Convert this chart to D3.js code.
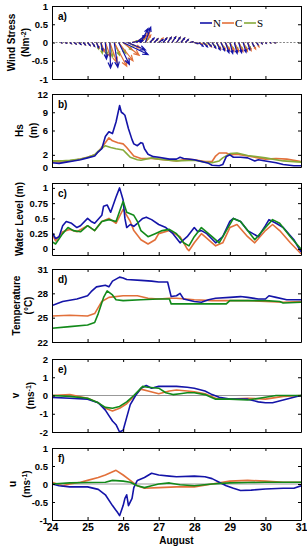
<!DOCTYPE html>
<html>
<head>
<meta charset="utf-8">
<script src="https://cdn.jsdelivr.net/npm/d3@7"></script>
<style>
  body { margin: 0; background: #fff; }
  text { font-family: "Liberation Sans", Arial, sans-serif; }
</style>
</head>
<body>
<div id="chart"></div>
<script>
// ---- data (days of August) ----
const stations = ["N", "C", "S"];
const days = [24, 25, 26, 27, 28, 29, 30, 31];

// wind stress sticks, 3-hourly
const windT = [24.25,24.375,24.5,24.625,24.75,24.875,25,25.125,25.25,25.375,25.5,25.625,25.75,25.875,26,26.125,26.25,26.375,26.5,26.625,26.75,26.875,27,27.125,27.25,27.375,27.5,27.625,27.75,27.875,28,28.125,28.25,28.375,28.5,28.625,28.75,28.875,29,29.125,29.25,29.375,29.5,29.625,29.75,29.875,30,30.125,30.25,30.375,30.5];
const windU_N = [0.02,0.03,0.04,0.05,0.06,0.06,0.07,0.07,0.06,0.05,0.03,0.02,0.1,0.3,0.7,0.5,0.3,0.25,0.2,0.15,0.12,0.1,0.12,0.1,0.1,0.1,0.1,0.1,0.08,0.08,0.1,0.12,0.12,0.1,0.1,0.1,0.1,0.1,0.08,0.08,0.08,0.08,0.06,0.05,0.04,0.03,0.02,0.02,0.02,0.01,0.01];
const windV_N = [-0.01,-0.02,-0.03,-0.04,-0.05,-0.06,-0.08,-0.1,-0.14,-0.22,-0.45,-0.7,-0.68,-0.6,-0.33,-0.2,0.05,0.2,0.38,0.42,0.12,0.1,0.08,0.12,0.14,0.15,0.14,0.12,0.08,0.02,-0.03,-0.1,-0.12,-0.1,-0.15,-0.2,-0.22,-0.28,-0.3,-0.3,-0.28,-0.27,-0.2,-0.1,-0.06,-0.03,-0.02,-0.01,-0.01,0,0];
const windU_C = [0.02,0.03,0.04,0.05,0.06,0.06,0.07,0.07,0.08,0.1,0.15,0.2,0.35,0.4,0.45,0.35,0.25,0.3,0.25,0.15,0.1,0.1,0.12,0.1,0.1,0.1,0.1,0.1,0.08,0.08,0.1,0.1,0.1,0.1,0.1,0.12,0.12,0.12,0.12,0.12,0.12,0.12,0.1,0.1,0.07,0.03,0.02,0.02,0.02,0.01,0.01];
const windV_C = [-0.01,-0.02,-0.03,-0.04,-0.05,-0.06,-0.08,-0.1,-0.15,-0.25,-0.4,-0.55,-0.65,-0.5,-0.35,-0.15,0.05,0.2,0.28,0.2,0.1,0.1,0.12,0.12,0.14,0.15,0.14,0.12,0.08,0.02,-0.03,-0.05,-0.08,-0.12,-0.15,-0.18,-0.2,-0.22,-0.24,-0.25,-0.25,-0.24,-0.22,-0.18,-0.12,-0.03,-0.02,-0.01,-0.01,0,0];
const windU_S = [0.02,0.03,0.04,0.05,0.06,0.06,0.07,0.07,0.06,0.04,0.05,0.08,0.15,0.2,0.25,0.2,0.15,0.15,0.12,0.1,0.1,0.1,0.1,0.1,0.1,0.1,0.1,0.1,0.08,0.08,0.1,0.1,0.1,0.1,0.1,0.1,0.1,0.1,0.1,0.1,0.1,0.1,0.08,0.06,0.04,0.03,0.02,0.02,0.02,0.01,0.01];
const windV_S = [-0.01,-0.02,-0.03,-0.04,-0.05,-0.06,-0.08,-0.1,-0.18,-0.3,-0.35,-0.4,-0.35,-0.3,-0.2,-0.1,0.05,0.1,0.12,0.12,0.1,0.1,0.1,0.12,0.14,0.15,0.14,0.12,0.08,0.02,-0.03,-0.04,-0.06,-0.1,-0.12,-0.15,-0.16,-0.17,-0.18,-0.18,-0.18,-0.17,-0.15,-0.12,-0.06,-0.03,-0.02,-0.01,-0.01,0,0];

// significant wave height [day, m]
const hs_N = [[24,0.7],[24.2,0.6],[24.4,0.8],[24.6,1.0],[24.8,1.2],[25,1.5],[25.2,1.8],[25.3,2.5],[25.4,3.0],[25.5,5.0],[25.6,5.8],[25.7,5.5],[25.8,7.4],[25.9,10.1],[25.95,9.0],[26,8.8],[26.05,8.5],[26.15,6.3],[26.25,4.5],[26.3,3.8],[26.4,3.5],[26.5,4.0],[26.55,3.9],[26.6,3.0],[26.7,2.1],[26.85,1.7],[27,1.6],[27.3,1.3],[27.5,1.3],[27.6,1.6],[27.7,1.4],[28,1.2],[28.2,0.9],[28.4,0.6],[28.5,0.3],[28.7,0.2],[28.8,0.4],[28.9,1.7],[29,2.0],[29.1,1.6],[29.3,1.6],[29.5,1.5],[29.7,1.0],[29.8,1.2],[30,1.0],[30.3,0.7],[30.5,0.4],[30.8,0.2],[31,0.2]];
const hs_C = [[24,0.9],[24.3,0.8],[24.5,1.0],[24.8,1.3],[25,1.6],[25.2,2.0],[25.3,2.5],[25.5,4.0],[25.6,4.8],[25.7,4.3],[25.85,4.0],[26,3.8],[26.1,3.2],[26.2,2.5],[26.3,1.8],[26.5,1.4],[26.8,1.4],[27,1.3],[27.5,1.0],[27.8,1.3],[28,1.2],[28.3,0.9],[28.5,0.9],[28.6,1.8],[28.7,2.3],[28.9,2.3],[29,2.0],[29.2,2.1],[29.5,1.8],[29.8,1.5],[30,1.3],[30.3,1.4],[30.6,1.3],[31,0.9]];
const hs_S = [[24,1.0],[24.3,1.0],[24.5,1.1],[24.8,1.3],[25,1.6],[25.2,2.0],[25.3,2.6],[25.5,3.5],[25.65,3.2],[25.8,3.0],[26,2.8],[26.1,2.2],[26.2,1.6],[26.4,1.2],[26.5,1.1],[26.8,1.5],[27,1.3],[27.5,1.0],[28,1.1],[28.3,0.8],[28.5,0.7],[28.7,1.0],[28.8,1.5],[29,2.2],[29.2,2.3],[29.5,1.9],[30,1.5],[30.5,1.0],[31,0.8]];

// water level [day, m]
const wl_N = [[24,0.27],[24.1,0.17],[24.2,0.2],[24.3,0.38],[24.4,0.45],[24.55,0.42],[24.7,0.35],[24.8,0.38],[25,0.5],[25.1,0.45],[25.2,0.42],[25.4,0.55],[25.45,0.7],[25.55,0.72],[25.65,0.6],[25.8,0.85],[25.9,1.0],[26,0.8],[26.05,0.5],[26.1,0.35],[26.2,0.4],[26.3,0.37],[26.4,0.42],[26.55,0.5],[26.65,0.52],[26.8,0.48],[27,0.4],[27.2,0.35],[27.4,0.25],[27.6,0.1],[27.8,0.2],[28,0.35],[28.1,0.28],[28.2,0.3],[28.35,0.25],[28.6,0.1],[28.8,0.2],[29,0.45],[29.1,0.5],[29.3,0.45],[29.5,0.3],[29.8,0.2],[30,0.38],[30.1,0.48],[30.3,0.42],[30.5,0.35],[30.8,0.15],[31,-0.05]];
const wl_C = [[24,0.25],[24.1,0.13],[24.3,0.28],[24.5,0.32],[24.7,0.28],[25,0.38],[25.2,0.3],[25.4,0.45],[25.6,0.5],[25.8,0.42],[26,0.65],[26.1,0.55],[26.2,0.45],[26.3,0.3],[26.5,0.15],[26.7,0.08],[26.9,0.15],[27,0.25],[27.3,0.3],[27.6,0.2],[27.8,0.0],[27.85,-0.03],[28,0.1],[28.2,0.25],[28.3,0.2],[28.5,0.1],[28.6,0.05],[28.8,0.1],[29,0.35],[29.2,0.4],[29.5,0.2],[29.7,0.1],[30,0.3],[30.2,0.4],[30.4,0.3],[30.7,0.1],[31,-0.08]];
const wl_S = [[24,0.12],[24.1,0.08],[24.3,0.25],[24.45,0.35],[24.6,0.3],[24.8,0.28],[25,0.38],[25.2,0.3],[25.4,0.45],[25.6,0.48],[25.8,0.45],[26,0.78],[26.1,0.6],[26.3,0.55],[26.4,0.45],[26.5,0.3],[26.7,0.2],[26.9,0.25],[27.1,0.3],[27.3,0.32],[27.5,0.25],[27.7,0.1],[27.85,0.05],[28,0.2],[28.2,0.35],[28.3,0.3],[28.5,0.2],[28.7,0.1],[28.9,0.3],[29.1,0.5],[29.3,0.45],[29.5,0.3],[29.7,0.15],[30,0.35],[30.2,0.48],[30.4,0.42],[30.7,0.2],[31,0.0]];

// temperature [day, degC]
const temp_N = [[24,26.5],[24.3,27.0],[24.7,27.3],[25,27.7],[25.1,28.2],[25.25,28.8],[25.5,29.0],[25.6,28.8],[25.7,29.5],[25.9,30.0],[26,29.9],[26.1,29.7],[26.5,29.6],[26.8,29.5],[27,29.4],[27.25,29.4],[27.35,27.6],[27.5,27.7],[27.6,28.0],[27.7,27.3],[28,27.0],[28.2,26.9],[28.4,27.2],[28.6,27.4],[29,27.5],[29.3,27.6],[29.5,27.5],[29.8,27.3],[30,27.3],[30.1,27.7],[30.3,27.5],[30.6,27.2],[31,27.2]];
const temp_C = [[24,25.2],[24.5,25.3],[25,25.2],[25.2,25.5],[25.4,27.0],[25.6,27.5],[26,27.7],[26.4,27.7],[26.7,27.4],[27,27.3],[27.3,27.4],[27.5,27.4],[28,27.2],[28.5,27.1],[29,27.1],[29.5,27.1],[30,27.0],[30.5,26.9],[31,27.0]];
const temp_S = [[24,23.7],[24.5,23.9],[25,24.1],[25.2,24.4],[25.3,25.5],[25.45,27.5],[25.55,28.3],[25.7,27.8],[25.8,27.2],[26,27.1],[26.5,27.2],[27,27.3],[27.3,27.3],[27.35,26.7],[28,26.7],[28.9,26.7],[29,27.1],[29.5,27.1],[30,27.1],[30.4,27.0],[30.5,26.8],[31,26.9]];

// north-south current v [day, m/s]
const v_N = [[24,-0.1],[24.5,-0.15],[25,-0.2],[25.3,-0.4],[25.5,-0.8],[25.6,-1.1],[25.7,-1.4],[25.8,-1.6],[25.9,-2.0],[26,-1.9],[26.1,-1.2],[26.2,-0.5],[26.35,0.0],[26.5,0.4],[26.65,0.55],[26.8,0.4],[27,0.5],[27.3,0.5],[27.5,0.5],[27.8,0.45],[28,0.4],[28.3,0.25],[28.5,0.05],[28.7,-0.1],[29,-0.2],[29.5,-0.2],[29.8,-0.35],[30,-0.4],[30.2,-0.4],[30.5,-0.25],[30.8,-0.1],[31,0.0]];
const v_C = [[24,0.0],[24.5,0.05],[25,-0.15],[25.3,-0.4],[25.5,-0.7],[25.7,-0.85],[25.9,-0.7],[26.1,-0.45],[26.3,-0.05],[26.5,0.35],[26.7,0.25],[27,0.1],[27.3,0.25],[27.5,0.3],[27.8,0.25],[28,0.2],[28.3,0.1],[28.6,-0.15],[29,-0.2],[29.5,-0.15],[30,-0.2],[30.5,-0.05],[31,0.0]];
const v_S = [[24,0.0],[24.5,-0.05],[25,-0.15],[25.3,-0.4],[25.5,-0.65],[25.7,-0.7],[25.9,-0.6],[26.1,-0.35],[26.3,0.0],[26.55,0.5],[26.7,0.45],[27,0.4],[27.2,0.15],[27.4,0.05],[27.6,0.1],[27.8,0.15],[28,0.15],[28.3,0.05],[28.6,-0.2],[29,-0.2],[29.5,-0.25],[30,-0.1],[30.3,0.0],[30.7,0.0],[31,0.0]];

// east-west current u [day, m/s]
const u_N = [[24,0.0],[24.2,-0.05],[24.5,-0.08],[25,-0.08],[25.3,-0.15],[25.5,-0.3],[25.7,-0.6],[25.85,-0.8],[25.9,-0.88],[26,-0.6],[26.05,-0.4],[26.1,-0.3],[26.15,-0.6],[26.25,-0.4],[26.3,-0.1],[26.4,0.1],[26.6,0.18],[26.8,0.3],[27,0.25],[27.3,0.22],[27.5,0.2],[28,0.22],[28.3,0.2],[28.5,0.15],[28.7,0.05],[28.9,-0.05],[29.1,-0.12],[29.3,-0.18],[29.6,-0.17],[30,-0.14],[30.5,-0.12],[30.8,-0.12],[31,-0.05]];
const u_C = [[24,0.05],[24.3,-0.05],[24.5,0.0],[24.8,0.05],[25,0.1],[25.3,0.18],[25.5,0.25],[25.8,0.38],[26,0.25],[26.2,0.1],[26.4,-0.05],[26.6,-0.12],[27,-0.1],[27.5,-0.08],[28,-0.08],[28.5,0.0],[29,0.08],[29.5,0.1],[30,0.08],[30.5,0.05],[31,0.05]];
const u_S = [[24,0.0],[24.5,0.03],[25,0.04],[25.5,0.05],[25.7,0.1],[26,0.08],[26.2,0.05],[26.4,-0.05],[26.6,-0.1],[26.8,-0.05],[27,0.0],[27.3,0.03],[27.6,-0.02],[28,-0.05],[28.5,0.0],[29,0.03],[29.5,0.04],[30,0.05],[30.5,0.05],[31,0.05]];

// ---- layout ----
const W = 307, H = 550;
const left = 52, right = 301;
const colN = "#1414a8", colC = "#e2703a", colOlive = "#86aa3a", colGreen = "#128a1a";

const svg = d3.select("#chart").append("svg")
  .attr("width", W)
  .attr("height", H);

const x = d3.scaleLinear().domain([24, 31]).range([left, right]);

const panels = [
  {tag: "a)", top: 6, bottom: 79, domain: [-1, 1], ticks: [-1, -0.5, 0, 0.5, 1], lab: ["Wind Stress", "(Nm|-2|)"], labX: [12, 26]},
  {tag: "b)", top: 94, bottom: 167, domain: [0, 12], ticks: [0, 2, 6, 9, 12], lab: ["Hs", "(m)"], labX: [20, 34],
    series: [[hs_C, colC], [hs_S, colOlive], [hs_N, colN]]},
  {tag: "c)", top: 183, bottom: 255, domain: [-0.1, 1.08], ticks: [0, 0.25, 0.5, 0.75, 1], lab: ["Water Level (m)"], labX: [20],
    series: [[wl_C, colC], [wl_N, colN], [wl_S, colGreen]]},
  {tag: "d)", top: 269, bottom: 342, domain: [22, 31], ticks: [22, 25, 28, 31], lab: ["Temperature", "(°C)"], labX: [17, 29],
    series: [[temp_C, colC], [temp_S, colGreen], [temp_N, colN]]},
  {tag: "e)", top: 359, bottom: 432, domain: [-2, 2], ticks: [-2, -1, 0, 1, 2], lab: ["v", "(ms|-1|)"], labX: [16, 31], zero: true,
    series: [[v_C, colC], [v_N, colN], [v_S, colGreen]]},
  {tag: "f)", top: 448, bottom: 520, domain: [-1, 1], ticks: [-1, -0.5, 0, 0.5, 1], lab: ["u", "(ms|-1|)"], labX: [13, 27], zero: true,
    series: [[u_C, colC], [u_N, colN], [u_S, colGreen]]}
];

const fmt = d => String(d);

panels.forEach((p, pi) => {
  const y = d3.scaleLinear().domain(p.domain).range([p.bottom, p.top]);
  const g = svg.append("g");

  g.append("clipPath").attr("id", "clip" + pi)
    .append("rect")
    .attr("x", left).attr("y", p.top)
    .attr("width", right - left).attr("height", p.bottom - p.top);

  const plot = g.append("g").attr("clip-path", "url(#clip" + pi + ")");

  if (p.zero) {
    plot.append("line")
      .attr("x1", left).attr("x2", right)
      .attr("y1", y(0)).attr("y2", y(0))
      .attr("stroke", "#999").attr("stroke-width", 1);
  }

  if (p.series) {
    const line = d3.line().x(d => x(d[0])).y(d => y(d[1]));
    p.series.forEach(s => {
      plot.append("path")
        .datum(s[0])
        .attr("d", line)
        .attr("fill", "none")
        .attr("stroke", s[1])
        .attr("stroke-width", 1.6)
        .attr("stroke-linejoin", "round");
    });
  }

  // wind stress sticks
  if (pi === 0) {
    plot.append("line")
      .attr("x1", left).attr("x2", right)
      .attr("y1", y(0)).attr("y2", y(0))
      .attr("stroke", "#888").attr("stroke-width", 1)
      .attr("stroke-dasharray", "2,1.5");

    const sticks = [[windU_S, windV_S, colOlive], [windU_C, windV_C, colC], [windU_N, windV_N, colN]];
    sticks.forEach(s => {
      windT.forEach((t, i) => {
        const x0 = x(t), y0 = y(0), x1 = x(t + s[0][i]), y1 = y(s[1][i]);
        const dx = x1 - x0, dy = y1 - y0, len = Math.hypot(dx, dy);
        if (len < 0.5) return;
        const a = Math.atan2(dy, dx), hl = Math.min(0.3 * len, 6), ha = 0.4;
        const hx1 = x1 - hl * Math.cos(a - ha), hy1 = y1 - hl * Math.sin(a - ha);
        const hx2 = x1 - hl * Math.cos(a + ha), hy2 = y1 - hl * Math.sin(a + ha);
        plot.append("path")
          .attr("d", `M${x0},${y0}L${x1},${y1}M${hx1},${hy1}L${x1},${y1}L${hx2},${hy2}`)
          .attr("fill", "none")
          .attr("stroke", s[2])
          .attr("stroke-width", 1.2);
      });
    });

    // legend
    const leg = g.append("g").attr("transform", "translate(200,23)");
    stations.forEach((st, k) => {
      leg.append("line")
        .attr("x1", k * 22).attr("x2", k * 22 + 12)
        .attr("y1", 0).attr("y2", 0)
        .attr("stroke", [colN, colC, colOlive][k]).attr("stroke-width", 1.6);
      leg.append("text")
        .attr("x", k * 22 + 13).attr("y", 4)
        .style("font-family", "'Liberation Serif', serif")
        .style("font-size", "11px")
        .text(st);
    });
  }

  // axes, MATLAB style box with inward ticks
  g.append("g").attr("transform", `translate(${left},0)`)
    .call(d3.axisLeft(y).tickValues(p.ticks).tickFormat(fmt).tickSize(-3).tickSizeOuter(0).tickPadding(4));
  g.append("g").attr("transform", `translate(${right},0)`)
    .call(d3.axisRight(y).tickValues(p.ticks).tickFormat("").tickSize(-3).tickSizeOuter(0));
  g.append("g").attr("transform", `translate(0,${p.top})`)
    .call(d3.axisTop(x).tickValues(days).tickFormat("").tickSize(-3).tickSizeOuter(0));
  const axB = g.append("g").attr("transform", `translate(0,${p.bottom})`)
    .call(d3.axisBottom(x).tickValues(days).tickFormat(pi === panels.length - 1 ? fmt : "").tickSize(-3).tickSizeOuter(0).tickPadding(4));

  g.selectAll(".domain").attr("stroke", "#000");
  g.selectAll(".tick text")
    .style("font-family", "'Liberation Sans', Arial, sans-serif")
    .style("font-size", "9.5px")
    .style("font-weight", "bold")
    .attr("fill", "#000");
  axB.selectAll(".tick text").style("font-size", "10.5px");

  // panel tag
  g.append("text")
    .attr("x", left + 6).attr("y", p.top + 14)
    .style("font-size", "10px").style("font-weight", "bold")
    .text(p.tag);

  // y label, lines rotated
  const cy = (p.top + p.bottom) / 2;
  p.lab.forEach((lb, k) => {
    const t = g.append("text")
      .attr("transform", `translate(${p.labX[k] + 3},${cy}) rotate(-90)`)
      .attr("text-anchor", "middle")
      .style("font-size", "10px").style("font-weight", "bold");
    lb.split("|").forEach((part, j) => {
      const ts = t.append("tspan").text(part);
      if (j === 1) ts.attr("baseline-shift", "super").style("font-size", "7px");
    });
  });
});

svg.append("text")
  .attr("x", (left + right) / 2).attr("y", 544)
  .attr("text-anchor", "middle")
  .style("font-size", "10px").style("font-weight", "bold")
  .text("August");
</script>
</body>
</html>
